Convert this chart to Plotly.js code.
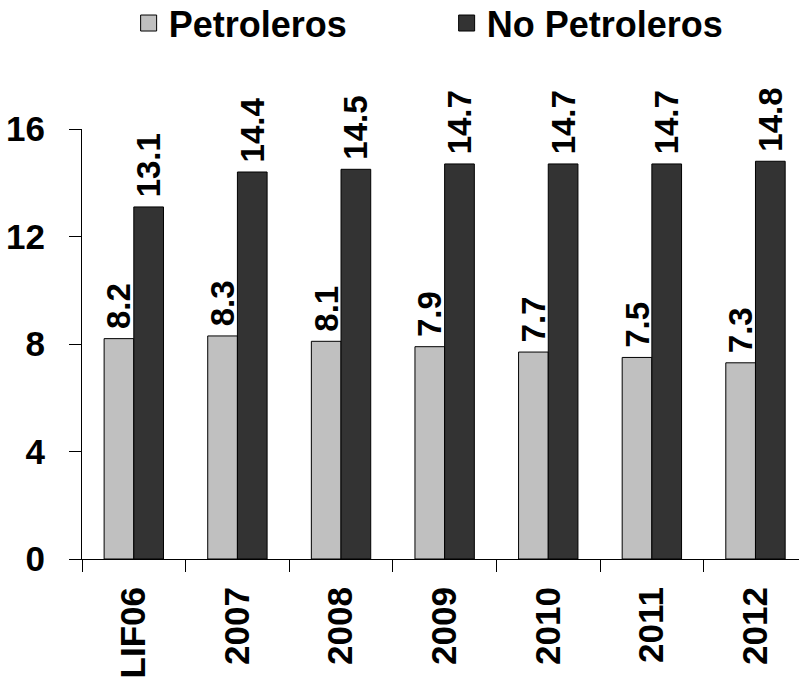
<!DOCTYPE html>
<html>
<head>
<meta charset="utf-8">
<script src="https://cdn.plot.ly/plotly-3.0.1.min.js"></script>
<style>html,body{margin:0;padding:0;background:#fff}#chart{width:799px;height:684px}</style>
</head>
<body>
<div id="chart"></div>
<script>
const categories = ["LIF06", "2007", "2008", "2009", "2010", "2011", "2012"];
const petroleros = [8.2, 8.3, 8.1, 7.9, 7.7, 7.5, 7.3];
const noPetroleros = [13.1, 14.4, 14.5, 14.7, 14.7, 14.7, 14.8];
const seriesNames = ["Petroleros", "No Petroleros"];
const yTicks = [0, 4, 8, 12, 16];

const FONT = "Liberation Sans, Arial, sans-serif";
const lightColor = "#C0C0C0";
const darkColor = "#333333";

const barCommon = {
  type: "bar",
  x: categories,
  textposition: "outside",
  textangle: -90,
  cliponaxis: false,
  constraintext: "none",
  texttemplate: "\u2009%{y:.1f}",
  textfont: {family: FONT, size: 33, weight: 700, color: "#000"},
  showlegend: false,
  hoverinfo: "skip"
};

const traces = [
  Object.assign({}, barCommon, {
    name: seriesNames[0], y: petroleros,
    marker: {color: lightColor, line: {color: "#000", width: 1}}
  }),
  Object.assign({}, barCommon, {
    name: seriesNames[1], y: noPetroleros,
    marker: {color: darkColor, line: {color: "#000", width: 1}}
  }),
  {type: "scatter", mode: "markers", x: [null], y: [null], name: seriesNames[0],
   marker: {symbol: "square", size: 22, color: lightColor, line: {color: "#000", width: 1}}, hoverinfo: "skip"},
  {type: "scatter", mode: "markers", x: [null], y: [null], name: seriesNames[1],
   marker: {symbol: "square", size: 22, color: darkColor, line: {color: "#000", width: 1}}, hoverinfo: "skip"}
];

const layout = {
  width: 799, height: 684,
  margin: {l: 82, r: 0, t: 129, b: 125, pad: 0, autoexpand: false},
  paper_bgcolor: "#fff", plot_bgcolor: "#fff",
  font: {family: FONT, color: "#000"},
  barmode: "group",
  bargap: 0.427,
  bargroupgap: 0,
  showlegend: true,
  legend: {
    orientation: "h",
    xref: "container", yref: "paper",
    x: 0.161, xanchor: "left",
    y: 1.316, yanchor: "top",
    font: {family: FONT, size: 36, weight: 700, color: "#000"},
    entrywidth: 273,
    bgcolor: "rgba(0,0,0,0)",
    itemclick: false, itemdoubleclick: false
  },
  xaxis: {
    type: "category",
    range: [-0.5, 6.42],
    showline: true, linecolor: "#000", linewidth: 1,
    ticks: "outside", ticklen: 12, tickcolor: "#000", tickwidth: 1,
    tickson: "boundaries",
    tickangle: -90,
    ticklabelstandoff: 13,
    tickfont: {family: FONT, size: 35, weight: 700, color: "#000"},
    showgrid: false, zeroline: false, fixedrange: true
  },
  yaxis: {
    range: [0, 16],
    tickvals: yTicks,
    ticktext: yTicks.map(String),
    showline: true, linecolor: "#000", linewidth: 1,
    ticks: "outside", ticklen: 12, tickcolor: "#000", tickwidth: 1,
    ticklabelstandoff: 17,
    tickfont: {family: FONT, size: 35, weight: 700, color: "#000"},
    showgrid: false, zeroline: false, fixedrange: true
  }
};

Plotly.newPlot("chart", traces, layout, {displayModeBar: false, staticPlot: true});
</script>
</body>
</html>
